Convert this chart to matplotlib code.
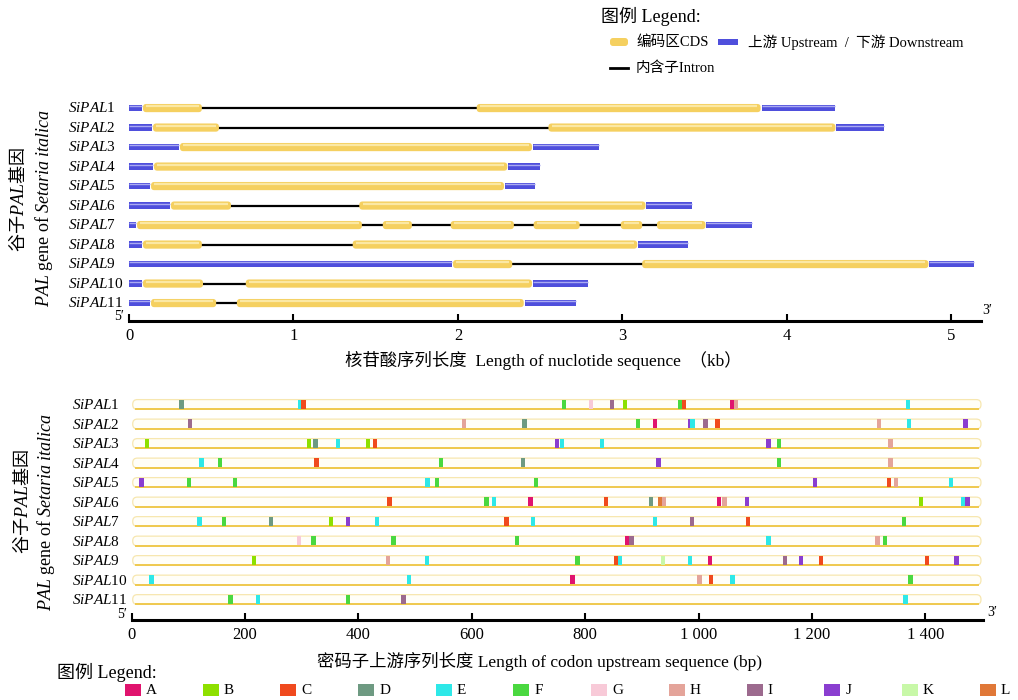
import matplotlib.pyplot as plt
from matplotlib.patches import FancyBboxPatch, Rectangle

plt.rcParams['font.family'] = ['Liberation Serif', 'Noto Sans CJK SC']
plt.rcParams['mathtext.fontset'] = 'custom'
plt.rcParams['mathtext.rm'] = 'Liberation Serif'
plt.rcParams['mathtext.it'] = 'Liberation Serif:italic'

# ---- data: gene structure (kb) ----
gene_ids = ['1', '2', '3', '4', '5', '6', '7', '8', '9', '10', '11']
exons = [
    [(0.085, 0.443), (2.114, 3.84)],
    [(0.146, 0.547), (2.55, 4.295)],
    [(0.31, 2.45)],
    [(0.152, 2.30)],
    [(0.134, 2.28)],
    [(0.255, 0.62), (1.40, 3.14)],
    [(0.049, 1.416), (1.543, 1.72), (1.956, 2.34), (2.46, 2.74), (2.99, 3.12), (3.21, 3.505)],
    [(0.085, 0.443), (1.36, 3.09)],
    [(1.97, 2.33), (3.12, 4.86)],
    [(0.085, 0.45), (0.71, 2.45)],
    [(0.134, 0.53), (0.656, 2.40)],
]
gene_end = [4.295, 4.59, 2.855, 2.50, 2.47, 3.42, 3.79, 3.40, 5.14, 2.79, 2.72]

# ---- data: cis elements upstream of codon (bp) ----
site_pos = [
    [88, 297, 303, 763, 810, 847, 870, 967, 974, 1059, 1066, 1369],
    [103, 586, 693, 893, 923, 985, 989, 1012, 1033, 1318, 1371, 1471],
    [27, 313, 324, 364, 417, 429, 750, 759, 830, 1123, 1142, 1338],
    [123, 156, 326, 546, 690, 929, 1142, 1338],
    [17, 101, 182, 522, 539, 713, 1205, 1336, 1348, 1445],
    [455, 626, 639, 704, 837, 916, 932, 939, 1036, 1046, 1085, 1392, 1466, 1474],
    [120, 163, 246, 352, 382, 433, 661, 708, 923, 988, 1087, 1362],
    [295, 321, 462, 680, 875, 882, 1123, 1316, 1329],
    [216, 452, 521, 786, 855, 861, 937, 985, 1020, 1152, 1181, 1216, 1403, 1455],
    [35, 489, 778, 1002, 1022, 1060, 1374],
    [174, 223, 382, 480, 1365],
]
site_type = [
    'DECFGIBFCAHE',
    'IHDFAJEICHEJ',
    'BBDEBCJEEJFH',
    'EFCFDJFH',
    'JFFEFFJCHE',
    'CFEACDLHAHJBEJ',
    'EFDBJECEEICF',
    'GFFFAIEHF',
    'BHEFCEKEAIJCCJ',
    'EEAHCEF',
    'FEFIE',
]
element_names = ['A', 'B', 'C', 'D', 'E', 'F', 'G', 'H', 'I', 'J', 'K', 'L']
element_colors = ['#e0146e', '#8ee000', '#f04a1e', '#6e9a82', '#2ee8e8', '#4ad840',
                  '#f8cad8', '#e4a49a', '#9c6a8e', '#8a3ed0', '#c8f8a8', '#e07838']
color_of = dict(zip(element_names, element_colors))

W, H = 1018, 700
fig = plt.figure(figsize=(W / 100, H / 100), dpi=100)


def px_axes(left, top, right, bottom):
    return fig.add_axes([left / W, 1 - bottom / H, (right - left) / W, (bottom - top) / H])


def gene_label(i):
    return r'$\mathit{SiPAL}$' + gene_ids[i]


YELLOW = '#f5d060'
YELLOW_HI = '#fbe8a4'
BLUE = '#4f4fdc'
BLUE_HI = '#aaaaf2'

# ================= top chart =================
ax1 = px_axes(129, 95, 981, 321)
ax1.set_xlim(0, 5.18)
ax1.set_ylim(10.92, -0.67)
ma1 = (852 / 5.18) / 19.5


def blue_bar(ax, a, b, y, h):
    ax.add_patch(Rectangle((a, y - h / 2), b - a, h, facecolor=BLUE, edgecolor='none', zorder=2))
    ax.plot([a, b], [y - h * 0.3, y - h * 0.3], color=BLUE_HI, lw=1.0, zorder=3,
            solid_capstyle='butt')


for i in range(len(gene_ids)):
    ex = exons[i]
    blue_bar(ax1, 0, ex[0][0] - 0.004, i, 0.32)
    blue_bar(ax1, ex[-1][1] + 0.006, gene_end[i], i, 0.32)
    for (a, b), (c, d) in zip(ex[:-1], ex[1:]):
        ax1.plot([b, c], [i, i], color='black', lw=1.6, zorder=1)
    for a, b in ex:
        ax1.add_patch(FancyBboxPatch((a, i - 0.21), b - a, 0.42,
                                     boxstyle='round,pad=0,rounding_size=0.02',
                                     mutation_aspect=ma1, facecolor=YELLOW,
                                     edgecolor='none', zorder=2))
        ax1.plot([a + 0.02, b - 0.02], [i - 0.09, i - 0.09], color=YELLOW_HI, lw=1.6,
                 zorder=3, solid_capstyle='butt')
    ax1.text(-0.371, i, gene_label(i), ha='left', va='center', fontsize=11,
             family='Liberation Serif', clip_on=False)

# ================= bottom chart =================
ax2 = px_axes(131.6, 392, 983, 620)
ax2.set_xlim(0, 1501.6)
ax2.set_ylim(11.05, -0.64)
ma2 = 0.567 / 19.5

for i in range(len(gene_ids)):
    ax2.add_patch(FancyBboxPatch((2, i - 0.25), 1496, 0.5,
                                 boxstyle='round,pad=0,rounding_size=8',
                                 mutation_aspect=ma2, facecolor='#fffef8',
                                 edgecolor='#f7e7b0', lw=0.9, zorder=1))
    ax2.plot([8, 1492], [i + 0.24, i + 0.24], color='#efc94e', lw=1.4, zorder=1)
    for p, t in zip(site_pos[i], site_type[i]):
        ax2.add_patch(Rectangle((p - 4, i - 0.24), 8, 0.46, facecolor=color_of[t],
                                edgecolor='none', zorder=3))
    ax2.text(-105, i + 0.05, gene_label(i), ha='left', va='center', fontsize=11,
             family='Liberation Serif', clip_on=False)

for ax in (ax1, ax2):
    for s in ('top', 'left', 'right'):
        ax.spines[s].set_visible(False)
    ax.spines['bottom'].set_linewidth(2.2)
    ax.set_yticks([])
    ax.tick_params(axis='x', direction='in', length=5, width=1.5, labelsize=12, pad=5)

ax1.set_xticks([0, 1, 2, 3, 4, 5])
ax2.set_xticks([0, 200, 400, 600, 800, 1000, 1200, 1400])
ax2.set_xticklabels(['0', '200', '400', '600', '800', '1 000', '1 200', '1 400'])

# ================= overlay for texts / legends =================
ov = fig.add_axes([0, 0, 1, 1])
ov.set_xlim(0, W)
ov.set_ylim(H, 0)
ov.axis('off')

# y labels
ov.text(18, 200, r'谷子$\mathit{PAL}$基因', rotation=90, ha='center', va='center',
        fontsize=13, family='Noto Sans CJK SC')
ov.text(44, 208, r'$\mathit{PAL}$ gene of $\mathit{Setaria\ italica}$', rotation=90,
        ha='center', va='center', fontsize=13, family='Liberation Serif')
ov.text(22, 502, r'谷子$\mathit{PAL}$基因', rotation=90, ha='center', va='center',
        fontsize=13, family='Noto Sans CJK SC')
ov.text(46, 512, r'$\mathit{PAL}$ gene of $\mathit{Setaria\ italica}$', rotation=90,
        ha='center', va='center', fontsize=13, family='Liberation Serif')

# x labels
ov.text(543, 360, '核苷酸序列长度  Length of nuclotide sequence  （kb）', ha='center',
        va='center', fontsize=12.5)
ov.text(540, 661, '密码子上游序列长度 Length of codon upstream sequence (bp)', ha='center',
        va='center', fontsize=12.5)

# 5' / 3' marks
ov.text(119, 316, '5′', ha='center', va='center', fontsize=10)
ov.text(987, 311, '3′', ha='center', va='center', fontsize=10)
ov.text(122, 614, '5′', ha='center', va='center', fontsize=10)
ov.text(992, 612, '3′', ha='center', va='center', fontsize=10)

# top legend
ov.text(601, 16, '图例 Legend:', ha='left', va='center', fontsize=13)
ov.add_patch(FancyBboxPatch((610, 38), 18, 8, boxstyle='round,pad=0,rounding_size=3',
                            facecolor=YELLOW, edgecolor='none'))
ov.text(636, 42, '编码区CDS', ha='left', va='center', fontsize=10.5)
ov.add_patch(Rectangle((718, 39), 20, 6, facecolor=BLUE, edgecolor='none'))
ov.text(748, 42, '上游 Upstream  /  下游 Downstream', ha='left', va='center', fontsize=10.5)
ov.plot([610, 628], [68, 68], color='black', lw=2)
ov.text(636, 68, '内含子Intron', ha='left', va='center', fontsize=10.5)

# bottom legend
ov.text(57, 672, '图例 Legend:', ha='left', va='center', fontsize=13)
for k, (name, col) in enumerate(zip(element_names, element_colors)):
    x0 = 125 + 77.7 * k
    ov.add_patch(Rectangle((x0, 684), 16, 12, facecolor=col, edgecolor='none'))
    ov.text(x0 + 21, 690, name, ha='left', va='center', fontsize=11)

fig.savefig('out.png', dpi=100)
